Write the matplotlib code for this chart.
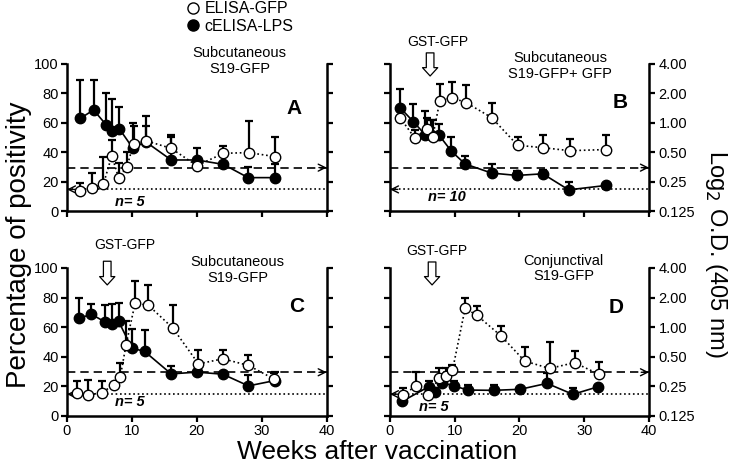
import matplotlib
matplotlib.use('Agg')
import matplotlib.pyplot as plt
import numpy as np
from matplotlib.lines import Line2D
from matplotlib.ticker import NullLocator

plt.rcParams['font.family'] = ['Liberation Sans', 'DejaVu Sans']

# ---------------- data ----------------
# weeks after vaccination, cELISA-LPS (% positivity) with upper error bound
a_lps_wk = [2.05, 4.1, 6.05, 7.0, 8.05, 10.1, 12.15, 16.05, 20.0, 24.1, 27.9, 32.0]
a_lps_pct = [63, 68.7, 58.5, 54.6, 56, 43, 47, 34.7, 34.7, 31.7, 22.7, 22.7]
a_lps_top = [89, 89, 80, 76, 71, 60, 58, 50, 42.6, 33, 30, 31.7]
# ELISA-GFP (O.D. 405 nm) with upper error bound
a_gfp_wk = [2.05, 3.85, 5.6, 6.9, 7.95, 9.2, 10.25, 12.15, 16.05, 20.0, 24.1, 28.0, 32.0]
a_gfp_od = [0.202, 0.217, 0.234, 0.460, 0.275, 0.350, 0.603, 0.655, 0.547, 0.364, 0.487, 0.495, 0.451]
a_gfp_top = [0.240, 0.304, 0.451, 0.660, 0.392, 0.500, 0.933, 1.173, 0.750, 0.364, 0.574, 1.035, 0.722]

b_lps_wk = [1.55, 3.6, 5.4, 6.4, 7.5, 9.5, 11.6, 15.7, 19.6, 23.6, 27.6, 33.4]
b_lps_pct = [70.3, 60.8, 52, 52, 52, 40.6, 32, 25.8, 24.2, 25.3, 14.4, 17.4]
b_lps_top = [83, 72.6, 68, 62, 59.4, 50, 37.7, 32, 27.4, 28, 19.4, 17.4]
b_gfp_wk = [1.55, 3.8, 5.7, 6.6, 7.7, 9.6, 11.75, 15.7, 19.7, 23.7, 27.8, 33.4]
b_gfp_od = [1.129, 0.702, 0.856, 0.719, 1.676, 1.803, 1.608, 1.129, 0.589, 0.555, 0.518, 0.532]
b_gfp_top = [1.414, 0.841, 1.110, 1.072, 2.488, 2.639, 2.462, 1.586, 0.719, 0.753, 0.683, 0.753]

c_lps_wk = [1.9, 3.75, 5.9, 6.9, 7.95, 10.0, 11.95, 16.05, 20.0, 24.0, 27.95, 32.0]
c_lps_pct = [66, 68.7, 63.4, 62, 63.9, 45.8, 43.6, 28.4, 29.6, 28.2, 20.3, 23.9]
c_lps_top = [79.7, 75.6, 74.7, 75.6, 76.3, 59, 58.2, 33.9, 29.6, 28.2, 27.8, 30]
c_gfp_wk = [1.55, 3.3, 5.4, 7.2, 8.2, 9.1, 10.5, 12.55, 16.3, 20.25, 24.0, 27.95, 31.95]
c_gfp_od = [0.216, 0.204, 0.216, 0.259, 0.310, 0.662, 1.759, 1.664, 0.979, 0.423, 0.476, 0.408, 0.295]
c_gfp_top = [0.286, 0.291, 0.280, 0.259, 0.431, 1.161, 2.928, 2.704, 1.693, 0.589, 0.589, 0.523, 0.343]

d_lps_wk = [1.9, 6.0, 7.0, 8.0, 9.9, 12.0, 16.0, 20.1, 24.25, 28.25, 32.2]
d_lps_pct = [9.9, 19.8, 16.2, 22.5, 20.3, 17.5, 17.3, 18, 22, 14.6, 19.8]
d_lps_top = [9.9, 23.6, 16.2, 26, 23.6, 20.9, 20.9, 18, 28.8, 18.7, 19.8]
d_gfp_wk = [2.0, 4.0, 5.8, 7.6, 8.6, 9.65, 11.6, 13.4, 17.2, 20.8, 24.65, 28.5, 32.3]
d_gfp_od = [0.204, 0.252, 0.204, 0.301, 0.322, 0.363, 1.548, 1.324, 0.809, 0.452, 0.380, 0.435, 0.331]
d_gfp_top = [0.239, 0.346, 0.204, 0.380, 0.387, 0.412, 1.986, 1.636, 1.032, 0.631, 0.710, 0.570, 0.444]

cutoff_dashed = 29.5
cutoff_dotted = 14.7

pct_ticks = [0, 20, 40, 60, 80, 100]
od_ticks = [0.125, 0.25, 0.5, 1.0, 2.0, 4.0]
od_labels = ['0.125', '0.25', '0.50', '1.00', '2.00', '4.00']
week_ticks = [0, 10, 20, 30, 40]

panel_letters = ['A', 'B', 'C', 'D']
panel_titles = ['Subcutaneous\nS19-GFP', 'Subcutaneous\nS19-GFP+ GFP',
                'Subcutaneous\nS19-GFP', 'Conjunctival\nS19-GFP']
panel_n = ['n= 5', 'n= 10', 'n= 5', 'n= 5']

# ---------------- layout ----------------
fig = plt.figure(figsize=(7.4, 4.7), dpi=100)
positions = [[0.0905, 0.551, 0.351, 0.313], [0.527, 0.551, 0.350, 0.313],
             [0.0905, 0.115, 0.351, 0.315], [0.527, 0.115, 0.350, 0.315]]
title_xy = [(26.6, 102), (26.3, 98.5), (26.3, 98.6), (26.8, 99.7)]
letter_xy = [(35, 70), (35.5, 74), (35.4, 73.6), (35, 73)]
n_xy = [(9.7, 6), (8.8, 9.6), (9.7, 9.5), (6.8, 6)]
gst = [None, ((6.2, 91.8), (6.2, 107.5), (7.4, 115)),
       ((6.2, 88.5), (6.2, 104.5), (8.9, 115.5)),
       ((6.5, 88.5), (6.5, 104), (7.2, 111.5))]

data = [
    (a_lps_wk, a_lps_pct, a_lps_top, a_gfp_wk, a_gfp_od, a_gfp_top),
    (b_lps_wk, b_lps_pct, b_lps_top, b_gfp_wk, b_gfp_od, b_gfp_top),
    (c_lps_wk, c_lps_pct, c_lps_top, c_gfp_wk, c_gfp_od, c_gfp_top),
    (d_lps_wk, d_lps_pct, d_lps_top, d_gfp_wk, d_gfp_od, d_gfp_top),
]

SPW = 1.8
for i, pos in enumerate(positions):
    lw_, lp_, lt_, gw_, go_, gt_ = [np.array(v, dtype=float) for v in data[i]]
    ax = fig.add_axes(pos)
    ax.set_xlim(0, 40)
    ax.set_ylim(0, 100)
    ax2 = ax.twinx()
    ax2.set_yscale('log', base=2)
    ax2.set_ylim(0.125, 4)
    ax2.set_yticks(od_ticks)
    ax2.yaxis.set_minor_locator(NullLocator())
    right_lab = i in (1, 3)
    ax2.set_yticklabels(od_labels if right_lab else [''] * len(od_ticks))
    ax.set_yticks(pct_ticks)
    if right_lab:
        ax.set_yticklabels([''] * len(pct_ticks))
    ax.set_xticks(week_ticks)
    if i < 2:
        ax.set_xticklabels([''] * len(week_ticks))
    ax.spines['top'].set_visible(False)
    ax.spines['right'].set_visible(False)
    for s in ['top', 'left', 'bottom']:
        ax2.spines[s].set_visible(False)
    for s in ['left', 'bottom']:
        ax.spines[s].set_linewidth(SPW)
    ax2.spines['right'].set_linewidth(SPW)
    ax.tick_params(axis='both', direction='out', length=4, width=1.6, labelsize=10.5, right=False, pad=2)
    ax2.tick_params(axis='y', direction='out', length=4, width=1.6, labelsize=10.5, pad=3)

    # reference lines
    ax.plot([0, 40], [cutoff_dashed, cutoff_dashed], ls=(0, (5, 3)), color='k', lw=1.2, clip_on=False)
    ax.annotate('', xy=(40, cutoff_dashed), xytext=(38.8, cutoff_dashed),
                arrowprops=dict(arrowstyle='->,head_length=0.5,head_width=0.25', lw=1.0, color='k',
                                shrinkA=0, shrinkB=0), annotation_clip=False)
    ax.plot([0, 40], [cutoff_dotted, cutoff_dotted], ls=':', color='k', lw=1.2, clip_on=False)
    ax.annotate('', xy=(0, cutoff_dotted), xytext=(1.2, cutoff_dotted),
                arrowprops=dict(arrowstyle='->,head_length=0.5,head_width=0.25', lw=1.0, color='k',
                                shrinkA=0, shrinkB=0), annotation_clip=False)

    # cELISA-LPS
    ax.errorbar(lw_, lp_, yerr=[np.zeros_like(lp_), lt_ - lp_], fmt='none', ecolor='k',
                elinewidth=1.6, capsize=3, capthick=1.6, zorder=2)
    ax.plot(lw_, lp_, '-', color='k', lw=1.2, marker='o', ms=7.5, mfc='k', mec='k', zorder=3)
    # ELISA-GFP
    ax2.errorbar(gw_, go_, yerr=[np.zeros_like(go_), gt_ - go_], fmt='none', ecolor='k',
                 elinewidth=1.6, capsize=3, capthick=1.6, zorder=2)
    ax2.plot(gw_, go_, ls=':', color='k', lw=1.2, marker='o', ms=7.5, mfc='white', mec='k',
             mew=1.0, zorder=3)

    ax.text(title_xy[i][0], title_xy[i][1], panel_titles[i], ha='center', va='center',
            fontsize=10.5, linespacing=1.15, clip_on=False)
    ax.text(letter_xy[i][0], letter_xy[i][1], panel_letters[i], ha='center', va='center',
            fontsize=15, fontweight='bold')
    ax.text(n_xy[i][0], n_xy[i][1], panel_n[i], ha='center', va='center', fontsize=10.5,
            fontweight='bold', style='italic')
    if gst[i] is not None:
        tip, tail, txt = gst[i]
        ax.annotate('', xy=tip, xytext=tail,
                    arrowprops=dict(arrowstyle='simple,head_length=0.6,head_width=1.1,tail_width=0.55',
                                    fc='white', ec='k', lw=0.9, shrinkA=0, shrinkB=0),
                    annotation_clip=False)
        ax.text(txt[0], txt[1], 'GST-GFP', ha='center', va='center', fontsize=10, clip_on=False)

handles = [Line2D([], [], ls='none', marker='o', ms=8, mfc='white', mec='k', mew=1.0),
           Line2D([], [], ls='none', marker='o', ms=8, mfc='k', mec='k')]
fig.legend(handles, ['ELISA-GFP', 'cELISA-LPS'], loc='upper left', bbox_to_anchor=(0.252, 0.997),
           frameon=False, fontsize=11.5, handlelength=0.8, handletextpad=0.35, labelspacing=0.15,
           borderpad=0, borderaxespad=0)

fig.text(0.026, 0.48, 'Percentage of positivity', rotation=90, ha='center', va='center', fontsize=20)
fig.text(0.968, 0.46, 'Log$_2$ O.D. (405 nm)', rotation=270, ha='center', va='center', fontsize=17)
fig.text(0.51, 0.038, 'Weeks after vaccination', ha='center', va='center', fontsize=19)

fig.savefig('out.png', dpi=100)
